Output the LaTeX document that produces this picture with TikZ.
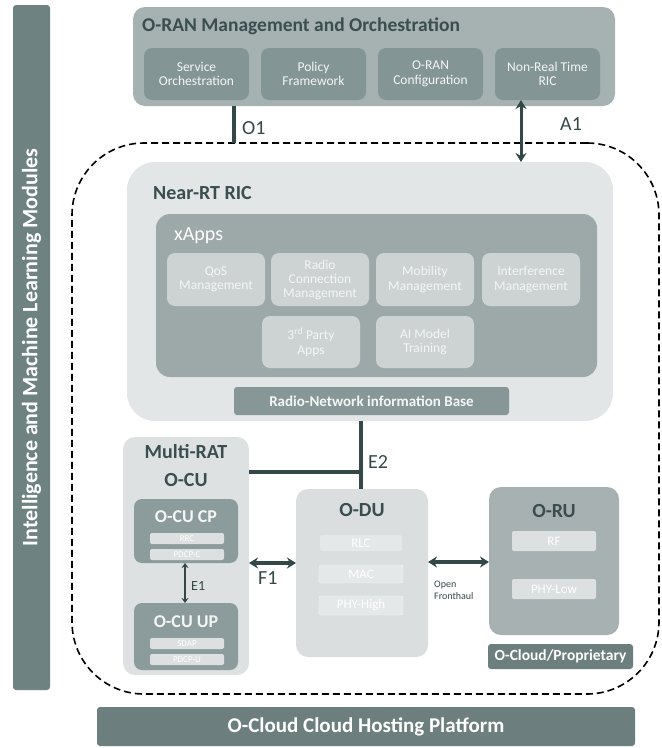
\documentclass[tikz,border=0pt]{standalone}
\usepackage{fontspec}
\setmainfont{Carlito}
\usetikzlibrary{arrows.meta}
\definecolor{barcol}{HTML}{6F8282}
\definecolor{mgmtbg}{HTML}{A6B2B2}
\definecolor{subbg}{HTML}{849595}
\definecolor{titlecol}{HTML}{3B4D4F}
\definecolor{nearbg}{HTML}{E3E6E6}
\definecolor{xappsbg}{HTML}{9DA9A9}
\definecolor{appbg}{HTML}{CDD3D3}
\definecolor{rnibbg}{HTML}{879696}
\definecolor{ocubg}{HTML}{DDE1E1}
\definecolor{cpbg}{HTML}{8C9B9B}
\definecolor{slotbg}{HTML}{DCE0E0}
\definecolor{odubg}{HTML}{DADEDE}
\definecolor{oduslot}{HTML}{E5E8E8}
\definecolor{orubg}{HTML}{A7B1B1}
\definecolor{darkbg}{HTML}{6C7E7E}
\definecolor{linecol}{HTML}{354848}
\definecolor{faint}{HTML}{F4F6F6}
\newcommand{\mybox}[7]{\node[#6, minimum width=#4pt, minimum height=#5pt, anchor=north west, inner sep=0pt, outer sep=0pt] (#1) at (#2,#3) {#7};}
\newcommand{\fsz}[1]{\fontsize{#1}{#1}\selectfont}
\begin{document}
\begin{tikzpicture}[x=1pt,y=-1pt,
  panel/.style={fill=#1, draw=none, rounded corners=12pt},
  subpanel/.style={fill=#1, draw=none, rounded corners=8pt, align=center, text=faint, font=\fontsize{13.5}{14.5}\selectfont},
  slot/.style={fill=#1, draw=none, rounded corners=2pt, align=center, text=white},
  heading/.style={text=titlecol, font=\bfseries\fsz{20}, inner sep=0pt},
  iface/.style={text=linecol, font=\fsz{20}, inner sep=0pt},
  conn/.style={draw=linecol, line width=4pt},
  dbl/.style={draw=linecol, line width=#1, {Stealth[length=9pt,width=11pt]}-{Stealth[length=9pt,width=11pt]}},
]
\useasboundingbox (0,0) rectangle (662,748);

% left bar
\mybox{bar}{13}{5}{37}{685}{fill=barcol, rounded corners=3pt}{}
\node[rotate=90, text=white, font=\bfseries\fsz{22}] (bartxt) at (bar.center) {Intelligence and Machine Learning Modules};

% management
\mybox{mgmt}{133}{7}{482}{99}{panel=mgmtbg}{}
\node[heading, font=\bfseries\fsz{19.5}, anchor=west] (mgmttitle) at (142,26) {O-RAN Management and Orchestration};
\mybox{so}{144}{48}{105}{52}{subpanel=subbg}{Service\\Orchestration}
\mybox{pf}{261}{48}{105}{52}{subpanel=subbg}{Policy\\Framework}
\mybox{oc}{378}{48}{105}{52}{subpanel=subbg}{O-RAN\\Configuration}
\mybox{nrt}{495}{48}{105}{52}{subpanel=subbg}{Non-Real Time\\RIC}

% dashed domain
\mybox{domain}{72}{143}{587}{551}{draw=black, dash pattern=on 7pt off 4pt, line width=1.6pt, rounded corners=72pt}{}

% near-RT RIC
\mybox{ric}{127}{162}{486}{259}{fill=nearbg, rounded corners=28pt}{}
\node[heading, anchor=west] (rictitle) at (153,193) {Near-RT RIC};
\mybox{xapps}{156}{214}{441}{163}{fill=xappsbg, rounded corners=14pt}{}
\node[text=white, font=\fsz{20}, anchor=west, inner sep=0pt] (xappstitle) at (174,236) {xApps};
\mybox{qos}{167}{253}{98}{53}{subpanel=appbg}{QoS\\Management}
\mybox{rcm}{271}{253}{98}{53}{subpanel=appbg, font=\fontsize{13.5}{14}\selectfont}{Radio\\Connection\\Management}
\mybox{mob}{376}{253}{98}{53}{subpanel=appbg}{Mobility\\Management}
\mybox{intf}{482}{253}{98}{53}{subpanel=appbg}{Interference\\Management}
\mybox{third}{262}{316}{98}{52}{subpanel=appbg}{3\textsuperscript{rd} Party\\Apps}
\mybox{ai}{376}{316}{98}{52}{subpanel=appbg}{AI Model\\Training}
\mybox{rnib}{234}{387}{275}{28}{fill=rnibbg, rounded corners=3pt, text=faint, font=\bfseries\fsz{15}}{Radio-Network information Base}

% O-CU
\mybox{ocu}{123}{437}{126}{238}{panel=ocubg}{}
\node[heading, align=center, font=\bfseries\fontsize{20}{28}\selectfont] (ocutitle) at (186,466) {Multi-RAT\\O-CU};
\mybox{cp}{134}{499}{104}{64}{subpanel=cpbg}{}
\node[text=faint, font=\bfseries\fsz{18}, inner sep=0pt] (cptitle) at (186,517) {O-CU CP};
\mybox{rrc}{150}{533}{74}{11}{slot=slotbg, font=\fsz{9}}{RRC}
\mybox{pdcpc}{150}{549}{74}{11}{slot=slotbg, font=\fsz{9}}{PDCP-C}
\mybox{up}{134}{603}{104}{67}{subpanel=cpbg}{}
\node[text=faint, font=\bfseries\fsz{18}, inner sep=0pt] (uptitle) at (186,622) {O-CU UP};
\mybox{sdap}{150}{638}{74}{11}{slot=slotbg, font=\fsz{9}}{SDAP}
\mybox{pdcpu}{150}{654}{74}{11}{slot=slotbg, font=\fsz{9}}{PDCP-U}

% O-DU
\mybox{odu}{296}{489}{132}{168}{panel=odubg}{}
\node[heading] (odutitle) at (362,510) {O-DU};
\mybox{rlc}{320}{535}{82}{16}{slot=oduslot, font=\fsz{13}}{RLC}
\mybox{mac}{319}{565}{84}{18}{slot=oduslot, draw=faint, font=\fsz{13}}{MAC}
\mybox{phyh}{319}{596}{84}{19}{slot=oduslot, draw=faint, font=\fsz{13}}{PHY-High}

% O-RU
\mybox{oru}{489}{487}{130}{148}{panel=orubg}{}
\node[heading] (orutitle) at (554,511) {O-RU};
\mybox{rf}{512}{531}{84}{20}{slot=slotbg, font=\fsz{13}}{RF}
\mybox{phyl}{512}{579}{84}{20}{slot=slotbg, font=\fsz{13}}{PHY-Low}
\mybox{ocp}{488}{644}{145}{25}{fill=darkbg, rounded corners=3pt, text=white, font=\bfseries\fsz{15.5}}{O-Cloud/Proprietary}

% hosting
\mybox{host}{97}{707}{538}{39}{fill=darkbg, rounded corners=3pt, text=white, font=\bfseries\fsz{21}}{O-Cloud Cloud Hosting Platform}

% connectors
\coordinate (o1x) at (234,0);
\coordinate (a1x) at (521,0);
\coordinate (e2x) at (361,0);
\coordinate (e2y) at (0,472);
\coordinate (f1y) at (0,563);
\coordinate (fhy) at (0,562);
\coordinate (e1x) at (185,0);

\draw[conn] (o1x |- mgmt.south) -- (o1x |- domain.north);
\node[iface, anchor=west] (o1lab) at (242,128) {O1};
\draw[dbl=3pt] (a1x |- nrt.south) -- (a1x |- ric.north);
\node[iface, anchor=west] (a1lab) at (560,124) {A1};

\draw[conn] (e2x |- ric.south) -- (e2x |- odu.north);
\draw[conn] (ocu.east |- e2y) -- (e2x |- e2y);
\node[iface, anchor=west] (e2lab) at (368,462) {E2};

\draw[dbl=3.5pt] (ocu.east |- f1y) -- (odu.west |- f1y);
\node[iface, anchor=west] (f1lab) at (258,578) {F1};
\draw[dbl=3.5pt] (odu.east |- fhy) -- (oru.west |- fhy);
\node[text=linecol, font=\fontsize{10}{12}\selectfont, align=left, anchor=north west, inner sep=0pt] (fhlab) at (434,581) {Open\\Fronthaul};
\draw[draw=linecol, line width=2pt, {Stealth[length=5pt,width=7pt]}-{Stealth[length=5pt,width=7pt]}] (e1x |- cp.south) -- (e1x |- up.north);
\node[text=linecol, font=\fsz{14}, anchor=west, inner sep=0pt] (e1lab) at (191,586) {E1};
\end{tikzpicture}
\end{document}
